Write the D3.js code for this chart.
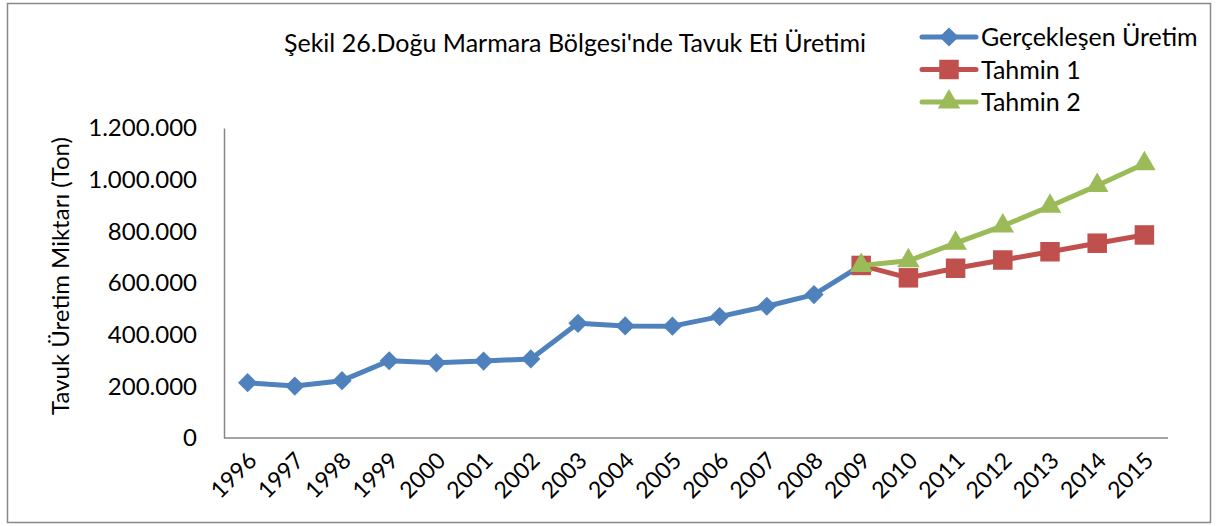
<!DOCTYPE html>
<html lang="tr">
<head>
<meta charset="UTF-8">
<title>Tavuk Eti Üretimi</title>
<script src="https://d3js.org/d3.v7.min.js"></script>
<style>
  body { margin: 0; background: #fff; }
  text { font-family: Lato, "Open Sans", sans-serif; fill: #000; }
</style>
</head>
<body>
<svg id="chart" width="1217" height="526"></svg>
<script>
const years = ["1996","1997","1998","1999","2000","2001","2002","2003","2004","2005",
               "2006","2007","2008","2009","2010","2011","2012","2013","2014","2015"];
// actual production 1996-2009
const gerceklesen = [214000, 201000, 222000, 299000, 291000, 298000, 306000, 444000, 434000, 433000,
                     470000, 510000, 555000, 668000];
// forecasts 2009-2015
const tahminYears = ["2009","2010","2011","2012","2013","2014","2015"];
const tahmin1 = [668000, 620000, 657000, 689000, 721000, 754000, 786000];
const tahmin2 = [668000, 686000, 754000, 821000, 897000, 977000, 1062000];
const yTicks = [0, 200000, 400000, 600000, 800000, 1000000, 1200000];

const svg = d3.select("#chart");
const plotL = 224, plotR = 1168, plotT = 128, plotB = 438;

svg.append("rect").attr("x", 7.5).attr("y", 3.5).attr("width", 1203).attr("height", 519)
  .attr("fill", "#fff").attr("stroke", "#898989").attr("stroke-width", 1.5);

const x = d3.scalePoint().domain(years).range([plotL, plotR]).padding(0.5);
const y = d3.scaleLinear().domain([0, 1200000]).range([plotB, plotT]);

const fmt = v => v === 0 ? "0" : d3.format(",")(v).replace(/,/g, ".");

// y axis
const yAxis = svg.append("g").attr("transform", `translate(${plotL},0)`)
  .call(d3.axisLeft(y).tickValues(yTicks).tickFormat(fmt).tickSize(0).tickPadding(27));
yAxis.select(".domain").attr("stroke", "#868686").attr("stroke-width", 1.5);
yAxis.selectAll("text").style("font-size", "24px").style("font-family", "Lato, sans-serif");

// x axis
const xAxis = svg.append("g").attr("transform", `translate(0,${plotB})`)
  .call(d3.axisBottom(x).tickSize(0).tickFormat(d => d));
xAxis.select(".domain").attr("d", `M${plotL},0H${plotR}`).attr("stroke", "#868686").attr("stroke-width", 1.5);
xAxis.selectAll("text")
  .style("font-size", "23px").style("font-family", "Lato, sans-serif")
  .attr("text-anchor", "end").attr("dy", 0).attr("y", 0)
  .attr("transform", "translate(10,24) rotate(-45)");

// y title
svg.append("text").attr("transform", `translate(69,276) rotate(-90)`)
  .attr("text-anchor", "middle").style("font-size", "24px")
  .text("Tavuk Üretim Miktarı (Ton)");

// title
svg.append("text").attr("x", 575).attr("y", 52).attr("text-anchor", "middle")
  .style("font-size", "25px").text("Şekil 26.Doğu Marmara Bölgesi'nde Tavuk Eti Üretimi");

const diamond = d3.symbol().type(d3.symbolSquare).size(185);
const line = d3.line().x(d => x(d[0])).y(d => y(d[1]));
const series = [
  { name: "Gerçekleşen Üretim", color: "#4F81BD", sym: diamond, rot: 45,
    data: gerceklesen.map((v, i) => [years[i], v]) },
  { name: "Tahmin 1", color: "#C0504D", sym: d3.symbol().type(d3.symbolSquare).size(380), rot: 0,
    data: tahmin1.map((v, i) => [tahminYears[i], v]) },
  { name: "Tahmin 2", color: "#9BBB59", sym: d3.symbol().type(d3.symbolTriangle).size(220), rot: 0,
    data: tahmin2.map((v, i) => [tahminYears[i], v]) }
];

series.forEach(s => {
  const g = svg.append("g");
  g.append("path").datum(s.data).attr("d", line).attr("fill", "none")
    .attr("stroke", s.color).attr("stroke-width", 5).attr("stroke-linejoin", "round");
  g.selectAll("path.m").data(s.data).join("path").attr("class", "m")
    .attr("transform", d => `translate(${x(d[0])},${y(d[1])}) rotate(${s.rot})`)
    .attr("d", s.sym).attr("fill", s.color);
});

// legend
const leg = svg.append("g");
series.forEach((s, i) => {
  const ly = 37 + i * 32.5;
  leg.append("line").attr("x1", 922).attr("x2", 976).attr("y1", ly).attr("y2", ly)
    .attr("stroke", s.color).attr("stroke-width", 5).attr("stroke-linecap", "round");
  leg.append("path").attr("transform", `translate(949,${ly}) rotate(${s.rot})`)
    .attr("d", s.sym).attr("fill", s.color);
  leg.append("text").attr("x", 981).attr("y", ly + 9).style("font-size", "25px").text(s.name);
});
</script>
</body>
</html>
